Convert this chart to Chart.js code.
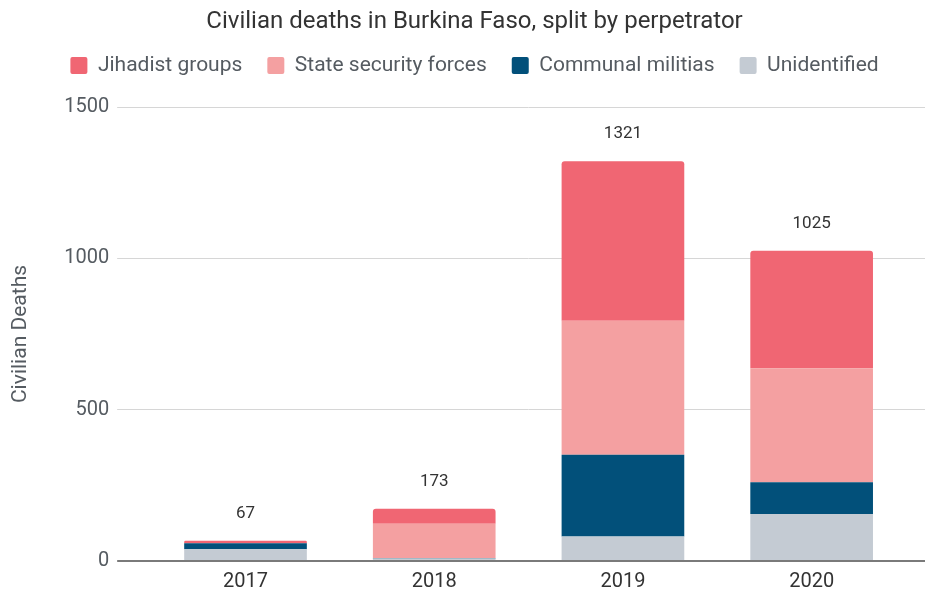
<!DOCTYPE html>
<html>
<head>
<meta charset="utf-8">
<script src="https://cdn.jsdelivr.net/npm/chart.js@4"></script>
<style>
  html, body { margin: 0; padding: 0; background: #fff; }
  #wrap { width: 931px; height: 592px; }
</style>
</head>
<body>
<div id="wrap"><canvas id="chart" width="931" height="592"></canvas></div>
<script>
// --- data ---
const years = ['2017', '2018', '2019', '2020'];
const jihadist = [8, 50, 527, 388];
const stateForces = [0, 113, 443, 377];
const militias = [20, 2, 270, 105];
const unidentified = [39, 8, 81, 155];
const totals = [67, 173, 1321, 1025];
const yTicks = [0, 500, 1000, 1500];

const textColor = '#555b61';
const gridColor = (c) => (c.tick && c.tick.value === 0 ? '#7a7a7a' : '#d6d6d6');
const gridWidth = (c) => (c.tick && c.tick.value === 0 ? 2 : 1);

// totals drawn above each stack
const totalLabels = {
  id: 'totalLabels',
  afterDatasetsDraw(chart) {
    const { ctx, scales } = chart;
    const meta = chart.getDatasetMeta(0);
    ctx.save();
    ctx.font = '17px Roboto';
    ctx.fillStyle = '#333';
    ctx.textAlign = 'center';
    ctx.textBaseline = 'middle';
    totals.forEach((t, i) => {
      const x = meta.data[i].x;
      const y = scales.y.getPixelForValue(t) - 27;
      ctx.fillText(String(t), x, y);
    });
    ctx.restore();
  }
};

// extra room under the legend, and title/legend centred over the plot
const headerTweaks = {
  id: 'headerTweaks',
  beforeInit(chart) {
    const fit = chart.legend.fit;
    chart.legend.fit = function () {
      fit.bind(chart.legend)();
      this.height += 21;
    };
  },
  afterLayout(chart) {
    const shift = 10;
    chart.titleBlock.left += shift;
    chart.titleBlock.right += shift;
    chart.legend.left += shift;
    chart.legend.right += shift;
  }
};

new Chart(document.getElementById('chart').getContext('2d'), {
  type: 'bar',
  data: {
    labels: years,
    datasets: [
      { label: 'Unidentified', data: unidentified, backgroundColor: '#c4cbd3' },
      { label: 'Communal militias', data: militias, backgroundColor: '#02507a' },
      { label: 'State security forces', data: stateForces, backgroundColor: '#f4a0a1' },
      { label: 'Jihadist groups', data: jihadist, backgroundColor: '#f06673',
        borderRadius: { topLeft: 3, topRight: 3 }, borderSkipped: 'bottom' }
    ]
  },
  options: {
    responsive: false,
    animation: false,
    layout: { padding: { left: 4, right: 6, top: 0, bottom: -3 } },
    datasets: { bar: { categoryPercentage: 0.65, barPercentage: 1.0 } },
    plugins: {
      title: {
        display: true,
        text: 'Civilian deaths in Burkina Faso, split by perpetrator',
        color: '#333',
        font: { family: 'Roboto', size: 24, weight: 'normal', lineHeight: 1 },
        padding: { top: 10, bottom: -4 }
      },
      legend: {
        reverse: true,
        labels: {
          color: textColor,
          font: { family: 'Roboto', size: 21 },
          boxWidth: 17,
          boxHeight: 17,
          padding: 25,
          useBorderRadius: true,
          borderRadius: 2
        }
      },
      tooltip: { enabled: false }
    },
    scales: {
      x: {
        stacked: true,
        grid: { display: false },
        border: { display: false },
        ticks: { color: '#333', font: { family: 'Roboto', size: 20 }, padding: 1 }
      },
      y: {
        stacked: true,
        min: 0,
        max: 1500,
        afterBuildTicks: (axis) => { axis.ticks = yTicks.map(v => ({ value: v })); },
        grid: { color: gridColor, lineWidth: gridWidth, drawTicks: true, tickLength: 34 },
        border: { display: false },
        ticks: {
          color: textColor,
          font: { family: 'Roboto', size: 20 },
          padding: 8,
          callback: (v) => String(v)
        },
        title: {
          display: true,
          text: 'Civilian Deaths',
          color: textColor,
          font: { family: 'Roboto', size: 21 },
          padding: { bottom: 23 }
        }
      },
      // right-hand stub so the gridlines run past the last bar
      y2: {
        position: 'right',
        min: 0,
        max: 1500,
        afterBuildTicks: (axis) => { axis.ticks = yTicks.map(v => ({ value: v })); },
        grid: { color: gridColor, lineWidth: gridWidth, drawOnChartArea: false, drawTicks: true, tickLength: 19 },
        border: { display: false },
        ticks: { display: false }
      }
    }
  },
  plugins: [totalLabels, headerTweaks]
});
</script>
</body>
</html>
